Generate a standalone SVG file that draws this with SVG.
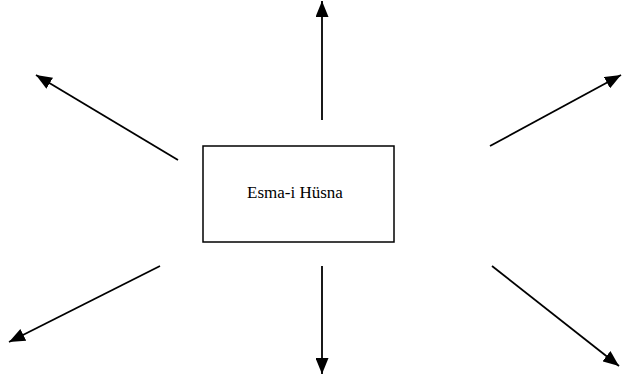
<svg xmlns="http://www.w3.org/2000/svg" width="622" height="377" viewBox="0 0 622 377">
<style>
.c{stroke:#000;stroke-width:1.8;fill:none;marker-end:url(#ah)}
.box{fill:#fff;stroke:#000;stroke-width:1.5}
.t{font-family:"Liberation Serif","Times New Roman",serif;font-size:17px;fill:#000}
</style>
<defs>
<marker id="ah" viewBox="0 0 16 13" refX="16" refY="6.5" markerWidth="16" markerHeight="13" markerUnits="userSpaceOnUse" orient="auto">
<path d="M0,0 L16,6.5 L0,13 z" fill="#000"/>
</marker>
</defs>
<g id="connectors">
<line class="c" x1="322" y1="120" x2="322" y2="1"/>
<line class="c" x1="322" y1="266" x2="322" y2="374"/>
<line class="c" x1="178" y1="160" x2="36" y2="75"/>
<line class="c" x1="490" y1="146" x2="621" y2="75"/>
<line class="c" x1="160" y1="266" x2="9" y2="342"/>
<line class="c" x1="492" y1="266" x2="619" y2="366"/>
</g>
<g id="center">
<rect class="box" x="203" y="146" width="191" height="96"/>
<text class="t" x="247" y="198">Esma-i Hüsna</text>
</g>
</svg>
